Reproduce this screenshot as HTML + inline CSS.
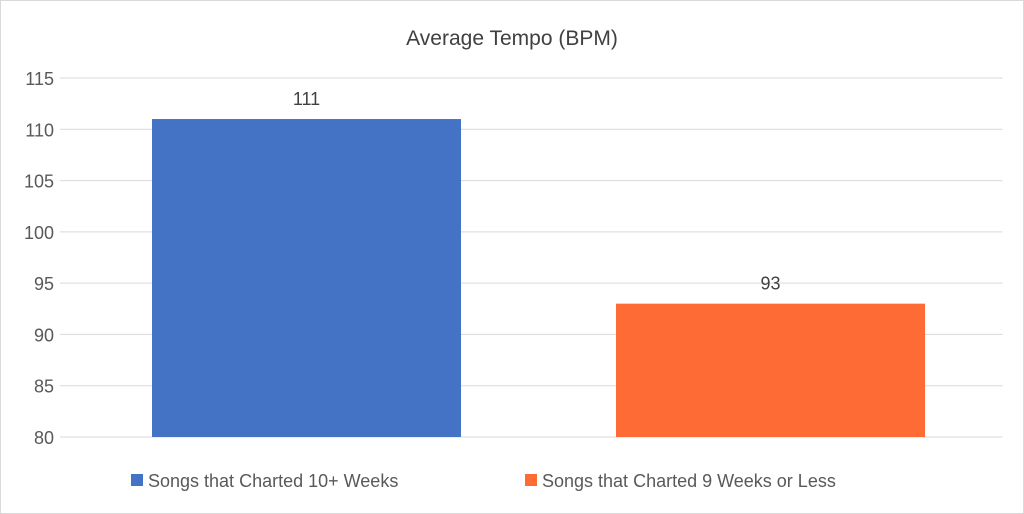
<!DOCTYPE html>
<html><head><meta charset="utf-8">
<style>
html,body{margin:0;padding:0;background:#fff;}
svg{display:block;font-family:"Liberation Sans",sans-serif;}
</style></head>
<body>
<svg id="chart" width="1024" height="514" viewBox="0 0 1024 514">
<rect x="0.5" y="0.5" width="1023" height="513" fill="#fff" stroke="#d9d9d9"/>
<text x="512" y="45" text-anchor="middle" font-size="21" fill="#404040">Average Tempo (BPM)</text>
<g id="grid"></g>
<g id="yticks"></g>
<g id="bars"></g>
<g id="legend"></g>
</svg>
<script>
const categories = ["Songs that Charted 10+ Weeks", "Songs that Charted 9 Weeks or Less"];
const values = [111, 93];
const valueLabels = ["111", "93"];
const tickValues = [80, 85, 90, 95, 100, 105, 110, 115];
const colors = ["#4472c4", "#ff6b35"];

const NS = "http://www.w3.org/2000/svg";
const yMin = 80, yMax = 115, yTop = 78, yBot = 437;
const xLeft = 74.5, xRight = 1002.5;
function y(v){ return yBot - (v - yMin) / (yMax - yMin) * (yBot - yTop); }
const band = (xRight - xLeft) / categories.length;
function xc(i){ return xLeft + band * (i + 0.5); }
const barW = 309;

function mk(tag, attrs, parent){
  const e = document.createElementNS(NS, tag);
  for (const k in attrs) e.setAttribute(k, attrs[k]);
  parent.appendChild(e);
  return e;
}
const grid = document.getElementById('grid');
const yt = document.getElementById('yticks');
tickValues.forEach(t => {
  const l = mk('line', {x1: 60, x2: xRight, y1: y(t), y2: y(t), stroke: '#d9d9d9', 'stroke-width': 1}, grid);
  
  
  const tx = mk('text', {x: 54, y: y(t) + 7, 'text-anchor': 'end', 'font-size': 18, fill: '#595959'}, yt);
  tx.textContent = t;
  
  
});
const bars = document.getElementById('bars');
values.forEach((v, i) => {
  const r = mk('rect', {x: xc(i) - barW / 2, y: y(v), width: barW, height: yBot - y(v), fill: colors[i]}, bars);
  
  
  const t = mk('text', {x: xc(i), y: y(v) - 14, 'text-anchor': 'middle', 'font-size': 18, fill: '#404040'}, bars);
  t.textContent = valueLabels[i];
  
  
});
const lg = document.getElementById('legend');
const legX = [131, 525];
categories.forEach((c, i) => {
  const s = mk('rect', {x: legX[i], y: 474, width: 12, height: 12, fill: colors[i]}, lg);
  
  
  const t = mk('text', {x: legX[i] + 17, y: 487, 'font-size': 18, fill: '#595959'}, lg);
  t.textContent = c;
  
  
});
</script>
</body></html>
